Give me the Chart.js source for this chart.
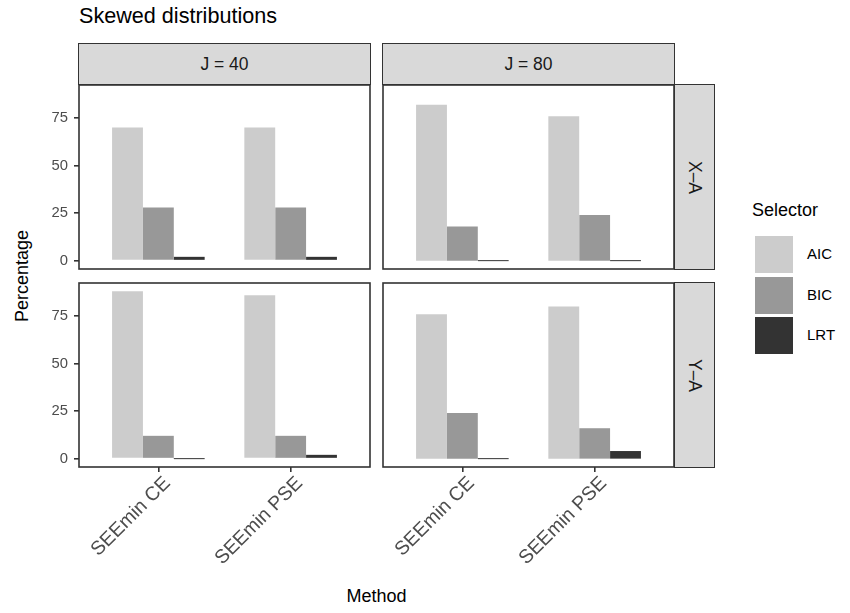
<!DOCTYPE html>
<html>
<head>
<meta charset="utf-8">
<script src="https://cdn.jsdelivr.net/npm/chart.js@4.4.0/dist/chart.umd.min.js"></script>
<style>
  body { margin: 0; background: #fff; font-family: "Liberation Sans", Arial, sans-serif; }
  #wrap { position: relative; width: 850px; height: 613px; overflow: hidden; }
  canvas { position: absolute; left: 0; top: 0; }
  .strip { position: absolute; box-sizing: border-box; background: #d9d9d9; border: 1.6px solid #333;
           color: #1a1a1a; font-size: 17.5px; display: flex; align-items: center; justify-content: center; }
  .strip.side span { display: inline-block; transform: rotate(90deg); white-space: nowrap; }
  .txt { position: absolute; white-space: nowrap; }
</style>
</head>
<body>
<div id="wrap">
  <div class="txt" style="left:79px;top:3px;font-size:21.6px;color:#000;">Skewed distributions</div>
  <div class="txt" style="left:0;top:0;width:44px;height:552px;">
    <div style="position:absolute;left:22px;top:276px;transform:translate(-50%,-50%) rotate(-90deg);font-size:18px;color:#000;">Percentage</div>
  </div>
  <div class="txt" style="left:79px;width:595px;top:586px;text-align:center;font-size:18px;color:#000;">Method</div>
  <div id="legend"></div>
</div>
<script>
// Selection rates (%) per method, one array per facet and selector
const methods = ["SEEmin CE", "SEEmin PSE"]
const selectors = ["AIC", "BIC", "LRT"]
const jLevels = ["J = 40", "J = 80"]
const anchors = ["X\u2013A", "Y\u2013A"]
const fills = ["#cccccc", "#989898", "#333333"]

const aicXA40 = [70, 70]
const bicXA40 = [28, 28]
const lrtXA40 = [2, 2]
const aicXA80 = [82, 76]
const bicXA80 = [18, 24]
const lrtXA80 = [0, 0]
const aicYA40 = [88, 86]
const bicYA40 = [12, 12]
const lrtYA40 = [0, 2]
const aicYA80 = [76, 80]
const bicYA80 = [24, 16]
const lrtYA80 = [0, 4]

const yTicks = [0, 25, 50, 75]

const panels = [
  [[aicXA40, bicXA40, lrtXA40], [aicXA80, bicXA80, lrtXA80]],
  [[aicYA40, bicYA40, lrtYA40], [aicYA80, bicYA80, lrtYA80]],
]

// facet grid geometry
const W = 850, H = 613
const colLeft = [79, 383], colW = 291
const rowTop = [85, 283], rowH = 184
const stripTop = 43, sideLeft = 674, sideW = 41

const wrap = document.getElementById("wrap")
const family = "'Liberation Sans', Arial, sans-serif"

const panelBorder = {
  id: "panelBorder",
  afterDatasetsDraw(chart) {
    const { ctx, chartArea: a } = chart
    ctx.save()
    ctx.strokeStyle = "#333333"
    ctx.lineWidth = 1.6
    ctx.strokeRect(a.left, a.top, a.right - a.left, a.bottom - a.top)
    ctx.restore()
  },
}

function addStrip(left, top, w, h, label, side) {
  const d = document.createElement("div")
  d.className = side ? "strip side" : "strip"
  d.style.left = left + "px"
  d.style.top = top + "px"
  d.style.width = w + "px"
  d.style.height = h + "px"
  d.innerHTML = "<span>" + label + "</span>"
  wrap.appendChild(d)
}

function makePanel(r, c) {
  const canvas = document.createElement("canvas")
  canvas.width = W
  canvas.height = H
  wrap.appendChild(canvas)

  const showY = c === 0
  const showX = r === rowTop.length - 1
  const left = colLeft[c], top = rowTop[r]

  new Chart(canvas, {
    type: "bar",
    data: {
      datasets: selectors.map((s, k) => ({
        label: s,
        data: panels[r][c][k].map((v, i) => ({ x: i + 1, y: v })),
        backgroundColor: fills[k],
        borderWidth: 0,
        minBarLength: 1,
        categoryPercentage: 0.7,
        barPercentage: 1,
      })),
    },
    options: {
      responsive: false,
      animation: false,
      layout: {
        padding: {
          left: showY ? 0 : left,
          top: top,
          right: W - left - colW,
          bottom: showX ? 0 : H - top - rowH,
        },
      },
      plugins: { legend: { display: false }, tooltip: { enabled: false } },
      scales: {
        x: {
          type: "linear",
          display: showX,
          min: 0.4,
          max: 2.6,
          offset: false,
          afterBuildTicks: (s) => { s.ticks = methods.map((m, i) => ({ value: i + 1 })) },
          afterFit: (s) => { s.height = showX ? H - top - rowH : 0 },
          border: { display: false },
          grid: { offset: false, drawOnChartArea: false, drawTicks: true, tickLength: 5, color: "#333333", lineWidth: 1.6 },
          ticks: {
            font: { family, size: 19.5 }, color: "#4d4d4d", padding: 0, autoSkip: false,
            minRotation: 45, maxRotation: 45, labelOffset: 9,
            callback: (v) => methods[v - 1],
          },
        },
        y: {
          display: showY,
          min: -4.4,
          max: 92.4,
          afterBuildTicks: (s) => { s.ticks = yTicks.map((v) => ({ value: v })) },
          afterFit: (s) => { s.width = showY ? left : 0 },
          border: { display: false },
          grid: { drawOnChartArea: false, drawTicks: true, tickLength: 5, color: "#333333", lineWidth: 1.6 },
          ticks: { font: { family, size: 14.8 }, color: "#4d4d4d", padding: 6 },
        },
      },
    },
    plugins: [panelBorder],
  })
}

jLevels.forEach((j, c) => addStrip(colLeft[c] - 1, stripTop, colW + 2, rowTop[0] - stripTop, j, false))
anchors.forEach((a, r) => addStrip(sideLeft, rowTop[r] - 1, sideW, rowH + 2, a, true))
for (let r = 0; r < rowTop.length; r++) {
  for (let c = 0; c < colLeft.length; c++) makePanel(r, c)
}

// Selector legend
const legend = document.getElementById("legend")
let html = '<div class="txt" style="left:752px;top:200px;font-size:18px;color:#000;">Selector</div>'
selectors.forEach((s, k) => {
  const y = 236 + k * 40.5
  html += '<div style="position:absolute;left:755px;top:' + y + 'px;width:38px;height:37px;background:' + fills[k] + ';"></div>'
  html += '<div class="txt" style="left:807px;top:' + (y + 9) + 'px;font-size:15px;color:#000;">' + s + '</div>'
})
legend.innerHTML = html
</script>
</body>
</html>
